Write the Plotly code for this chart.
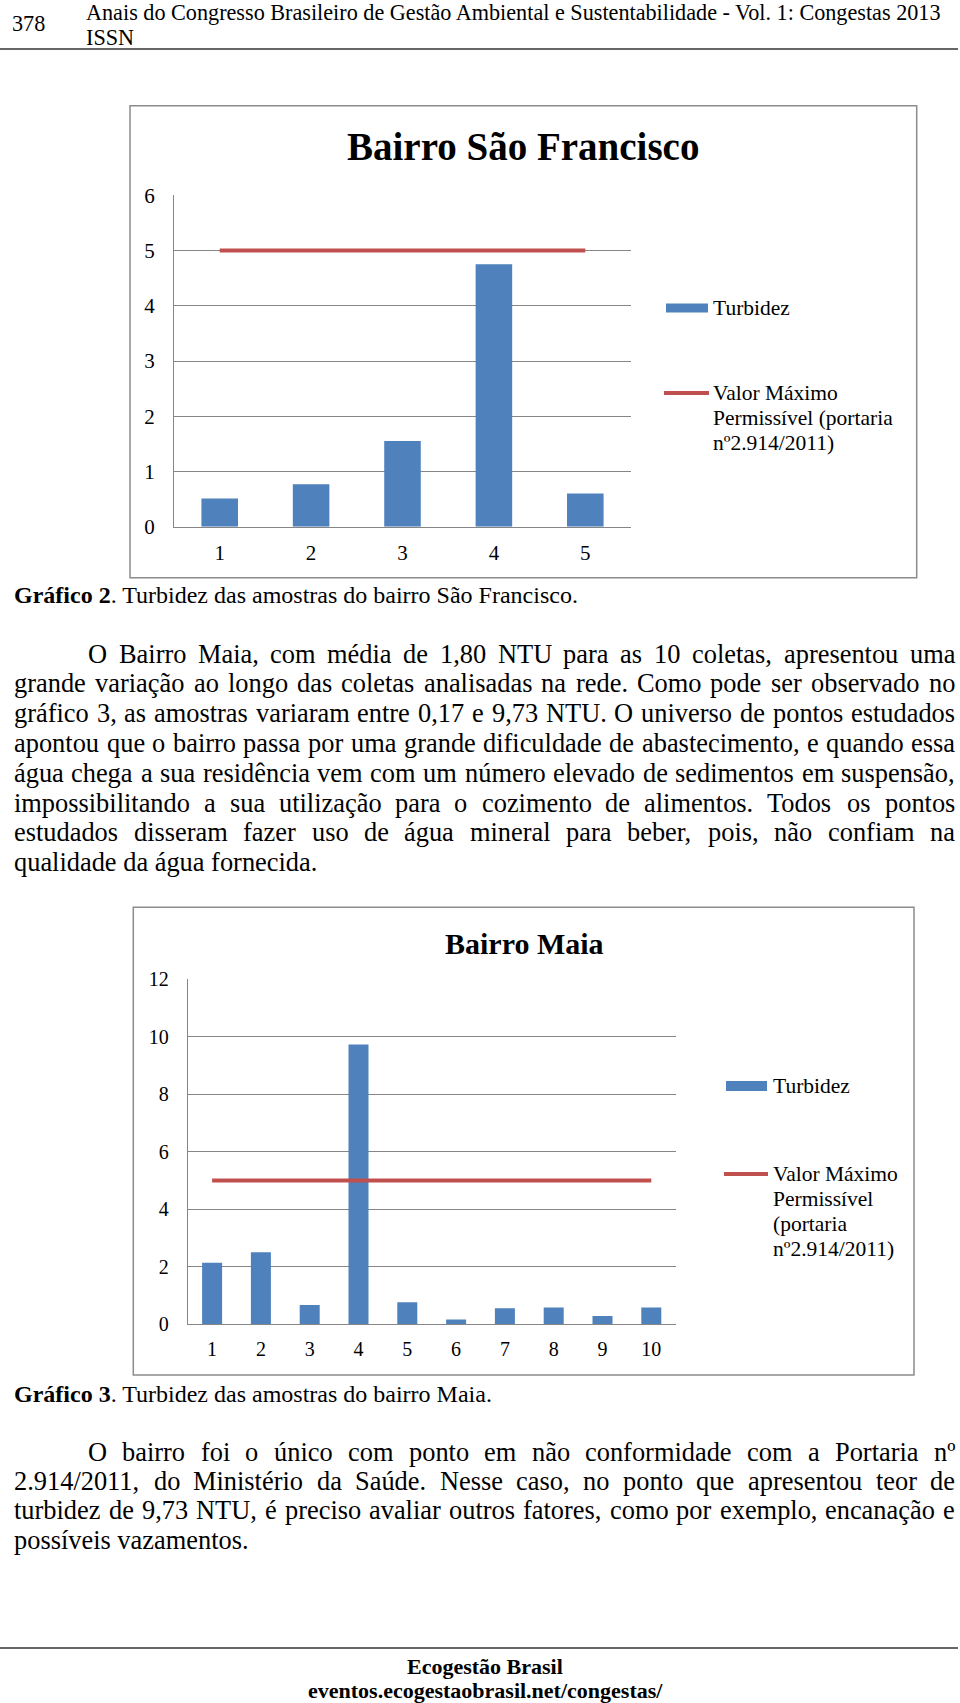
import unicodedata
import plotly.graph_objects as go

# ---------------- data ----------------
sf_categories = [1, 2, 3, 4, 5]
sf_turbidez = [0.51, 0.77, 1.55, 4.75, 0.60]
sf_vmp = [5, 5, 5, 5, 5]

maia_categories = [1, 2, 3, 4, 5, 6, 7, 8, 9, 10]
maia_turbidez = [2.14, 2.51, 0.67, 9.73, 0.77, 0.17, 0.56, 0.58, 0.29, 0.58]
maia_vmp = [5, 5, 5, 5, 5, 5, 5, 5, 5, 5]

sf_title = "Bairro São Francisco"
maia_title = "Bairro Maia"
legend_bar = "Turbidez"
legend_line_sf = ["Valor Máximo", "Permissível (portaria", "nº2.914/2011)"]
legend_line_maia = ["Valor Máximo", "Permissível", "(portaria", "nº2.914/2011)"]

# ---------------- page geometry ----------------
W, H = 960, 1703
FONT = "Liberation Serif, Times New Roman, serif"
BLUE = "#4F81BD"
RED = "#C0504D"
GRID = "#868686"


def px(x):
    return x / W


def py(y):
    return 1 - y / H


# Times-metric widths (per 1000 em) for justification
_lower = [444, 500, 444, 500, 444, 333, 500, 500, 278, 278, 500, 278, 778,
          500, 500, 500, 500, 333, 389, 278, 500, 500, 722, 500, 500, 444]
_upper = [722, 667, 667, 722, 611, 556, 722, 722, 333, 389, 722, 611, 889,
          722, 722, 556, 722, 667, 556, 611, 722, 722, 944, 722, 722, 611]
WID = {}
for i, c in enumerate("abcdefghijklmnopqrstuvwxyz"):
    WID[c] = _lower[i]
for i, c in enumerate("ABCDEFGHIJKLMNOPQRSTUVWXYZ"):
    WID[c] = _upper[i]
for c in "0123456789":
    WID[c] = 500
WID.update({" ": 250, ",": 250, ".": 250, "/": 278, ":": 278, "-": 333,
            "(": 333, ")": 333, "º": 310})


def cw(c):
    if c in WID:
        return WID[c]
    base = unicodedata.normalize("NFD", c)[0]
    return WID.get(base, 500)


def tw(s, size):
    return sum(cw(c) for c in s) / 1000 * size


annotations = []
shapes = []


def text(x, y, s, size, anchor="left", bold=False):
    if bold:
        s = "<b>" + s + "</b>"
    annotations.append(dict(
        xref="paper", yref="paper", x=px(x), y=py(y), text=s, showarrow=False,
        xanchor=anchor, yanchor="middle", align="left", borderpad=0, borderwidth=0,
        font=dict(family=FONT, size=size, color="black")))


def justified(line, y, x0, x1, size):
    words = line.split(" ")
    natural = sum(tw(w, size) for w in words)
    gap = (x1 - x0 - natural) / (len(words) - 1)
    x = x0
    for w in words:
        text(x, y, w, size)
        x += tw(w, size) + gap


def hline(x0, x1, y, color="#333333", width=1.5):
    shapes.append(dict(type="line", xref="paper", yref="paper",
                       x0=px(x0), x1=px(x1), y0=py(y), y1=py(y),
                       line=dict(color=color, width=width)))


def rect(x0, y0, x1, y1, line=None, fill=None):
    shapes.append(dict(type="rect", xref="paper", yref="paper",
                       x0=px(x0), x1=px(x1), y0=py(y1), y1=py(y0),
                       line=line or dict(width=0), fillcolor=fill or "rgba(0,0,0,0)"))


# ---------------- header ----------------
HDR = 22.2
text(12, 23, "378", HDR)
text(86, 12.9, "Anais do Congresso Brasileiro de Gestão Ambiental e Sustentabilidade - Vol. 1: Congestas 2013", HDR)
text(86, 37.9, "ISSN", HDR)
hline(0, 958, 49)

# ---------------- chart boxes ----------------
rect(130, 105.7, 916.7, 577.7, line=dict(color="#8C8C8C", width=1.5))
rect(133.3, 907.3, 914, 1375, line=dict(color="#8C8C8C", width=1.5))

# plot areas (pixels)
P1 = dict(l=174, r=631, t=195.3, b=526.7)
P2 = dict(l=187.7, r=675.7, t=979.3, b=1324.3)

fig = go.Figure()
fig.add_trace(go.Bar(x=sf_categories, y=sf_turbidez, width=0.4, marker_color=BLUE,
                     marker_line_width=0, name=legend_bar, xaxis="x", yaxis="y",
                     showlegend=False))
fig.add_trace(go.Scatter(x=sf_categories, y=sf_vmp, mode="lines",
                         line=dict(color=RED, width=4), name="VMP",
                         xaxis="x", yaxis="y", showlegend=False))
fig.add_trace(go.Bar(x=maia_categories, y=maia_turbidez, width=0.41, marker_color=BLUE,
                     marker_line_width=0, name=legend_bar, xaxis="x2", yaxis="y2",
                     showlegend=False))
fig.add_trace(go.Scatter(x=maia_categories, y=maia_vmp, mode="lines",
                         line=dict(color=RED, width=4), name="VMP",
                         xaxis="x2", yaxis="y2", showlegend=False))


def xax(P, cats, anchor, size):
    return dict(domain=[px(P["l"]), px(P["r"])], anchor=anchor,
                range=[0.5, len(cats) + 0.5], tickmode="array", tickvals=cats,
                ticktext=[str(c) for c in cats], showline=True, linecolor=GRID,
                linewidth=1, showgrid=False, zeroline=False, ticks="",
                ticklabelstandoff=7, tickfont=dict(family=FONT, size=size, color="black"),
                fixedrange=True, automargin=False)


def yax(P, top, dtick, anchor, size):
    return dict(domain=[py(P["b"]), py(P["t"])], anchor=anchor, range=[0, top],
                dtick=dtick, tick0=0, showgrid=True, gridcolor=GRID, gridwidth=1,
                showline=True, linecolor=GRID, linewidth=1, zeroline=False, ticks="",
                ticklabelstandoff=14, tickfont=dict(family=FONT, size=size, color="black"),
                fixedrange=True, automargin=False)


# ---------------- chart titles and legends ----------------
text(523, 147, sf_title, 39, anchor="center", bold=True)
rect(666, 303.5, 708, 312.5, fill=BLUE)
text(713, 308, legend_bar, 21.5)
hline(664, 709, 393, color=RED, width=4)
for i, s in enumerate(legend_line_sf):
    text(713, 393 + 25 * i, s, 21.5)

text(524, 943, maia_title, 30, anchor="center", bold=True)
rect(726, 1081, 767, 1091, fill=BLUE)
text(773, 1086, legend_bar, 21.5)
hline(724, 768, 1174, color=RED, width=4)
for i, s in enumerate(legend_line_maia):
    text(773, 1174 + 25 * i, s, 21.5)

# ---------------- body text ----------------
X0, X1 = 14, 955
BODY = 26.4
CAP = 24
text(14, 595, "<b>Gráfico 2</b>. Turbidez das amostras do bairro São Francisco.", CAP)

p1 = [
    ("O Bairro Maia, com média de 1,80 NTU para as 10 coletas, apresentou uma", 654, 88),
    ("grande variação ao longo das coletas analisadas na rede. Como pode ser observado no", 683, X0),
    ("gráfico 3, as amostras variaram entre 0,17 e 9,73 NTU. O universo de pontos estudados", 713, X0),
    ("apontou que o bairro passa por uma grande dificuldade de abastecimento, e quando essa", 743, X0),
    ("água chega a sua residência vem com um número elevado de sedimentos em suspensão,", 773, X0),
    ("impossibilitando a sua utilização para o cozimento de alimentos. Todos os pontos", 803, X0),
    ("estudados disseram fazer uso de água mineral para beber, pois, não confiam na", 832, X0),
]
for s, y, x0 in p1:
    justified(s, y, x0, X1, BODY)
text(X0, 862, "qualidade da água fornecida.", BODY)

text(14, 1394, "<b>Gráfico 3</b>. Turbidez das amostras do bairro Maia.", CAP)
p2 = [
    ("O bairro foi o único com ponto em não conformidade com a Portaria nº", 1452, 88),
    ("2.914/2011, do Ministério da Saúde. Nesse caso, no ponto que apresentou teor de", 1481, X0),
    ("turbidez de 9,73 NTU, é preciso avaliar outros fatores, como por exemplo, encanação e", 1510, X0),
]
for s, y, x0 in p2:
    justified(s, y, x0, X1, BODY)
text(X0, 1540, "possíveis vazamentos.", BODY)

# ---------------- footer ----------------
hline(0, 958, 1648)
text(485, 1666, "Ecogestão Brasil", 22, anchor="center", bold=True)
text(485, 1690, "eventos.ecogestaobrasil.net/congestas/", 22, anchor="center", bold=True)

fig.update_layout(
    width=W, height=H,
    margin=dict(l=0, r=0, t=0, b=0, pad=0, autoexpand=False),
    paper_bgcolor="white", plot_bgcolor="white", showlegend=False,
    hovermode=False, barmode="overlay",
    xaxis=xax(P1, sf_categories, "y", 21),
    yaxis=yax(P1, 6, 1, "x", 21),
    xaxis2=xax(P2, maia_categories, "y2", 20),
    yaxis2=yax(P2, 12, 2, "x2", 20),
    annotations=annotations, shapes=shapes,
    font=dict(family=FONT, color="black"),
)

fig.write_html("out.html", config={"displayModeBar": False})
